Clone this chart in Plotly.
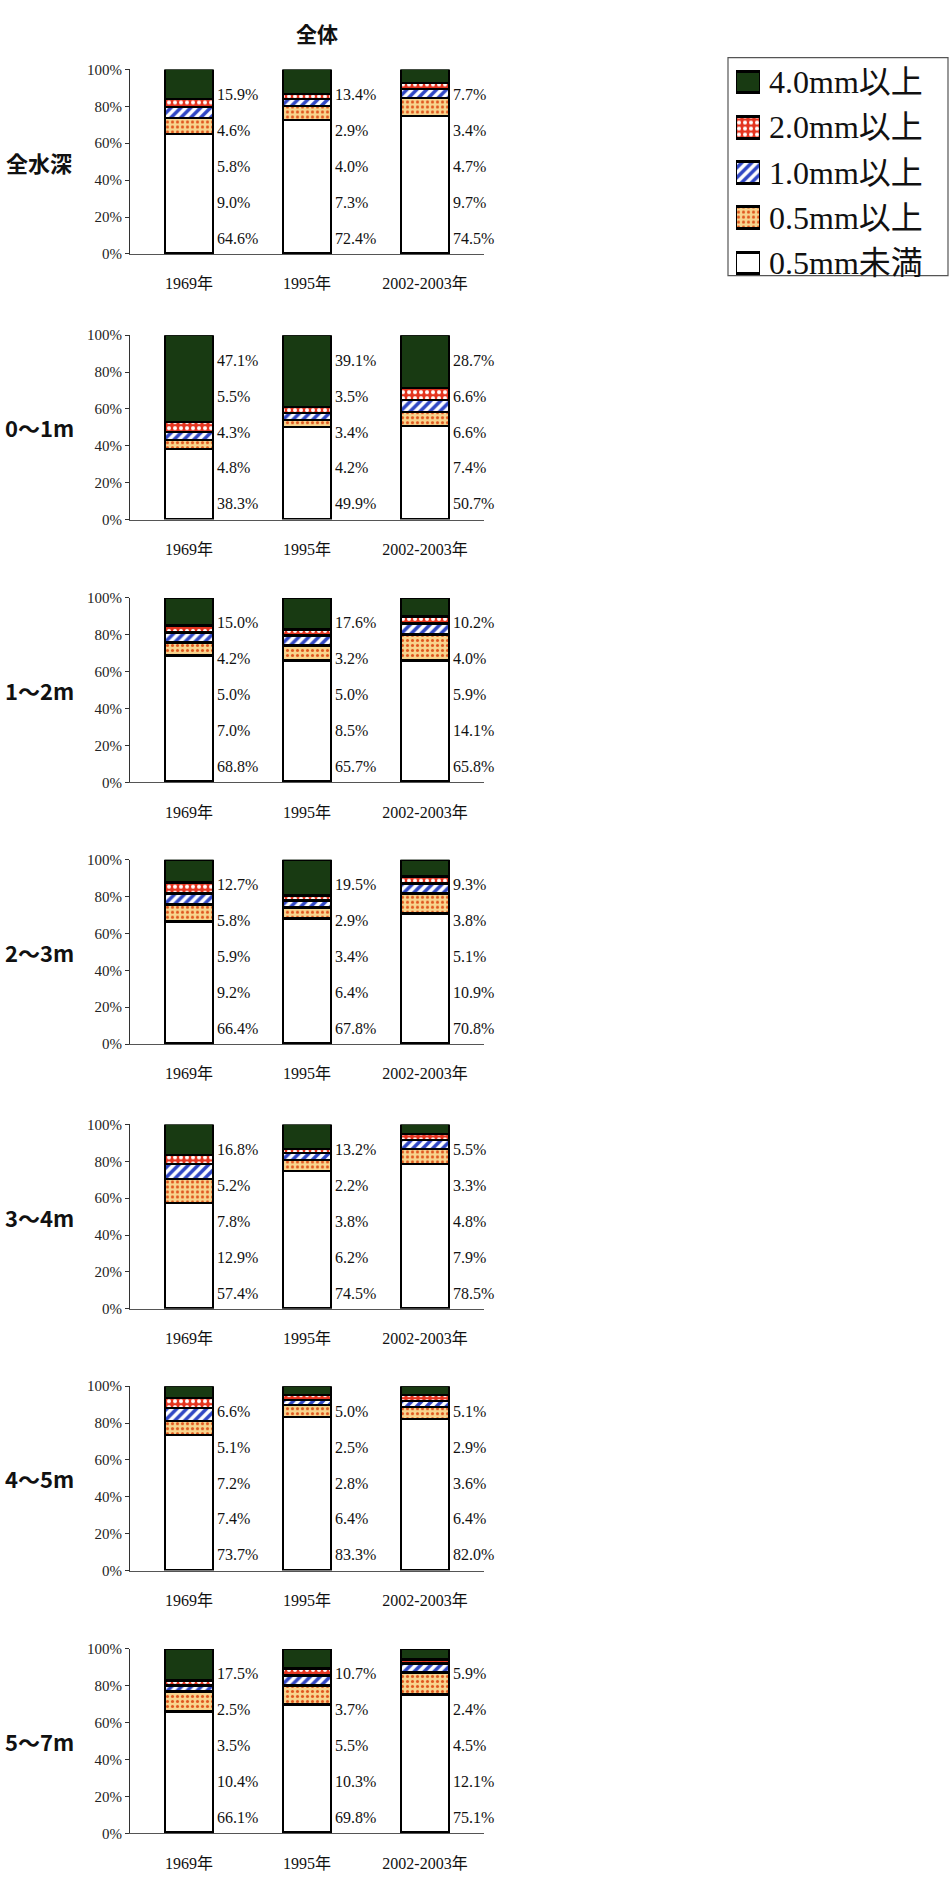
import plotly.graph_objects as go

W, H = 952, 1883

years = ["1969年", "1995年", "2002-2003年"]
depths = ["全水深", "0～1m", "1～2m", "2～3m", "3～4m", "4～5m", "5～7m"]
classes = ["4.0mm以上", "2.0mm以上", "1.0mm以上", "0.5mm以上", "0.5mm未満"]
y_ticks = [0, 20, 40, 60, 80, 100]
y_ticktext = ["0%", "20%", "40%", "60%", "80%", "100%"]

# percentage per depth row (each entry: 1969, 1995, 2002-2003)
ge40 = [[15.9, 13.4, 7.7], [47.1, 39.1, 28.7], [15.0, 17.6, 10.2], [12.7, 19.5, 9.3],
        [16.8, 13.2, 5.5], [6.6, 5.0, 5.1], [17.5, 10.7, 5.9]]
ge20 = [[4.6, 2.9, 3.4], [5.5, 3.5, 6.6], [4.2, 3.2, 4.0], [5.8, 2.9, 3.8],
        [5.2, 2.2, 3.3], [5.1, 2.5, 2.9], [2.5, 3.7, 2.4]]
ge10 = [[5.8, 4.0, 4.7], [4.3, 3.4, 6.6], [5.0, 5.0, 5.9], [5.9, 3.4, 5.1],
        [7.8, 3.8, 4.8], [7.2, 2.8, 3.6], [3.5, 5.5, 4.5]]
ge05 = [[9.0, 7.3, 9.7], [4.8, 4.2, 7.4], [7.0, 8.5, 14.1], [9.2, 6.4, 10.9],
        [12.9, 6.2, 7.9], [7.4, 6.4, 6.4], [10.4, 10.3, 12.1]]
lt05 = [[64.6, 72.4, 74.5], [38.3, 49.9, 50.7], [68.8, 65.7, 65.8], [66.4, 67.8, 70.8],
        [57.4, 74.5, 78.5], [73.7, 83.3, 82.0], [66.1, 69.8, 75.1]]

# series in top-to-bottom order (matches legend and label order)
series = [ge40, ge20, ge10, ge05, lt05]
styles = [
    dict(bg="#183a12", fg="#183a12", shape="", size=8, sol=0.3),
    dict(bg="#e4341f", fg="#ffffff", shape=".", size=6, sol=0.35),
    dict(bg="#ffffff", fg="#3047c4", shape="/", size=7, sol=0.5),
    dict(bg="#f8d58e", fg="#e0561e", shape=".", size=5, sol=0.3),
    dict(bg="#ffffff", fg="#ffffff", shape="", size=8, sol=0.3),
]
label_y = [86.5, 67, 47.5, 28, 8.5]

SERIF = "Liberation Serif, Noto Sans CJK JP, serif"
SANS = "Noto Sans CJK JP, sans-serif"


def px_x(X):
    return X / W


def px_y(Y):
    return 1 - Y / H


def marker_for(st):
    m = dict(color=st["bg"], line=dict(color="black", width=2.5))
    if st["shape"]:
        m["pattern"] = dict(shape=st["shape"], fgcolor=st["fg"], size=st["size"],
                            solidity=st["sol"], fillmode="overlay", fgopacity=1)
    return m


fig = go.Figure()
annotations = []
layout_axes = {}

X0, X1 = 130, 484
PH = 186
tops = [62, 330, 595, 859, 1126, 1390, 1655]
BARW = 0.41

for i, depth in enumerate(depths):
    n = i + 1
    xa = "x" if n == 1 else f"x{n}"
    ya = "y" if n == 1 else f"y{n}"
    # stacked bottom-up
    for k in range(4, -1, -1):
        fig.add_trace(go.Bar(
            x=years, y=series[k][i], xaxis=xa, yaxis=ya, width=BARW,
            name=classes[k], showlegend=False, marker=marker_for(styles[k]),
        ))
    for j, yr in enumerate(years):
        for k in range(5):
            annotations.append(dict(
                x=j + BARW / 2, y=label_y[k], xref=xa, yref=ya,
                text=f"{series[k][i][j]:.1f}%", showarrow=False, xanchor="left", yanchor="middle",
                xshift=2, font=dict(family=SERIF, size=16, color="#111")))
    top = tops[i]
    layout_axes[f"xaxis{n if n > 1 else ''}"] = dict(
        domain=[px_x(X0), px_x(X1)], anchor=ya, range=[-0.5, 2.5], type="category",
        showline=True, linecolor="#555", linewidth=1, showgrid=False,
        ticks="outside", ticklen=15, tickcolor="rgba(0,0,0,0)",
        tickfont=dict(family=SERIF, size=16, color="#111"), fixedrange=True)
    layout_axes[f"yaxis{n if n > 1 else ''}"] = dict(
        domain=[px_y(top + PH), px_y(top)], anchor=xa, range=[0, 100],
        tickmode="array", tickvals=y_ticks, ticktext=y_ticktext,
        showline=True, linecolor="#333", linewidth=1, showgrid=False, zeroline=False,
        ticks="outside", ticklen=4, tickcolor="#333",
        tickfont=dict(family=SERIF, size=15, color="#222"), fixedrange=True)
    annotations.append(dict(
        x=px_x(39), y=px_y(top + PH / 2), xref="paper", yref="paper",
        text=f"<b>{depth}</b>", showarrow=False, xanchor="center", yanchor="middle",
        font=dict(family=SANS, size=22, color="#111")))

# title
annotations.append(dict(x=px_x(294), y=px_y(25), xref="paper", yref="paper", yanchor="middle",
                        text="<b>全体</b>", showarrow=False, font=dict(family=SANS, size=21, color="#111")))

# legend swatches drawn as a small bar chart (one trace per class)
LEG_TOP, LEG_BOT = 52, 280
for k in range(5):
    fig.add_trace(go.Bar(
        x=[1], y=[k], orientation="h", xaxis="x8", yaxis="y8", width=0.48,
        showlegend=False, name=classes[k], marker=marker_for(styles[k]),
    ))
layout_axes["xaxis8"] = dict(domain=[px_x(736), px_x(760)], anchor="y8", range=[0, 1],
                             visible=False, fixedrange=True)
layout_axes["yaxis8"] = dict(domain=[px_y(LEG_BOT), px_y(LEG_TOP)], anchor="x8", range=[4.5, -0.5],
                             visible=False, fixedrange=True)
row_h = (LEG_BOT - LEG_TOP) / 5
for k, c in enumerate(classes):
    annotations.append(dict(x=px_x(767), y=px_y(LEG_TOP + row_h * (k + 0.5)), xref="paper", yref="paper",
                            text=c, showarrow=False, xanchor="left", yanchor="middle",
                            font=dict(family=SERIF, size=32, color="#111")))

fig.update_layout(
    width=W, height=H, margin=dict(l=0, r=0, t=0, b=0),
    paper_bgcolor="white", plot_bgcolor="white", barmode="stack", bargap=0,
    annotations=annotations,
    shapes=[dict(type="rect", xref="paper", yref="paper", x0=px_x(728), x1=px_x(948),
                 y0=px_y(270), y1=px_y(50), line=dict(color="#555", width=1.2))],
    **layout_axes,
)

fig.write_html("out.html", config={"displayModeBar": False},
               post_script="document.body.style.margin='0';document.documentElement.style.margin='0';")
